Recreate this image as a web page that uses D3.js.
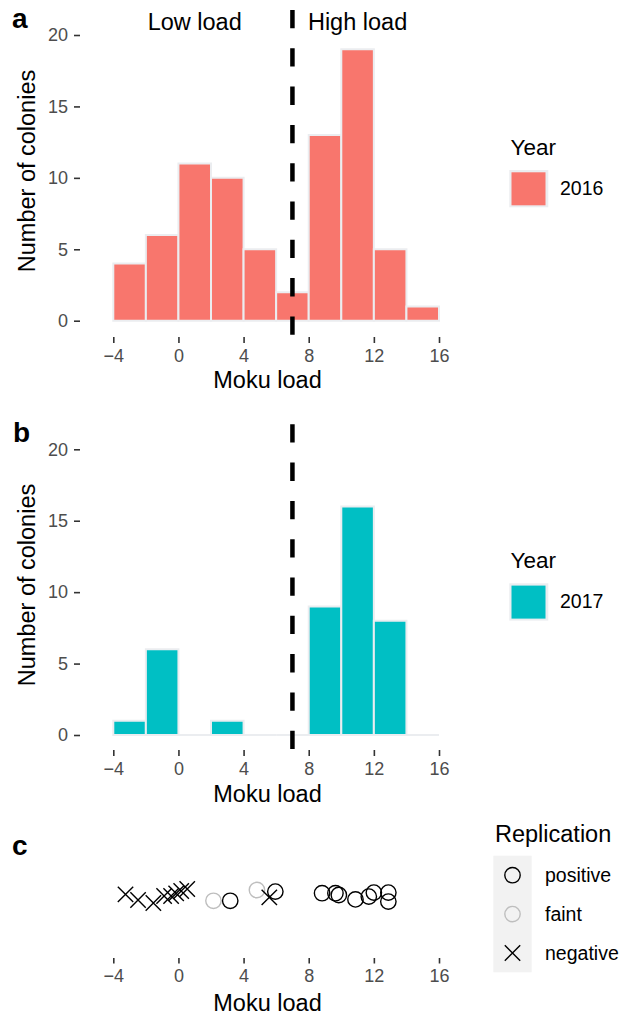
<!DOCTYPE html>
<html>
<head>
<meta charset="utf-8">
<script src="https://cdn.jsdelivr.net/npm/d3@7"></script>
<style>
  html, body { margin: 0; padding: 0; background: #fff; }
  svg { display: block; font-family: "Liberation Sans", Arial, Helvetica, sans-serif; }
</style>
</head>
<body>
<svg id="chart" width="621" height="1016"></svg>
<script>
// ---------- data ----------
const binStarts = [-4, -2, 0, 2, 4, 6, 8, 10, 12, 14];
const binWidth = 2;
const counts2016 = [4, 6, 11, 10, 5, 2, 13, 19, 5, 1];
const counts2017 = [1, 6, 0, 1, 0, 0, 9, 16, 8, 0];
const xTicks = [-4, 0, 4, 8, 12, 16];
const yTicks = [0, 5, 10, 15, 20];
const threshold = 7;
const years = ["2016", "2017"];
const yearColors = ["#F8766D", "#00BFC4"];

// panel c: replication results
const repLoad   = [-3.25, -2.48, -1.54, -0.88, -0.45, -0.14, 0.17, 0.54, 2.15, 3.18, 4.82, 5.58, 5.95, 8.82, 9.64, 9.85, 10.87, 11.69, 12.0, 12.89, 12.89];
const repJitter = [0.03, -0.25, -0.4, -0.05, -0.05, 0.08, 0.2, 0.3, -0.29, -0.29, 0.25, -0.12, 0.17, 0.09, 0.09, 0.0, -0.22, -0.08, 0.12, 0.12, -0.33];
const repStatus = ["negative","negative","negative","negative","negative","negative","negative","negative",
                   "faint","positive","faint","negative","positive",
                   "positive","positive","positive","positive","positive","positive","positive","positive"];
const repLevels = ["positive", "faint", "negative"];
const repColors = { positive: "#000000", faint: "#BEBEBE", negative: "#000000" };

// ---------- layout ----------
const svg = d3.select("#chart");
const FONT_TITLE = 23.5, FONT_TICK = 18, FONT_LEG = 19.5;
const outline = "#EBEDF0";
const x = d3.scaleLinear().domain([-4, 16]).range([113.3, 439]);
const axisLeftX = 80;

function drawHist(counts, color, y0px, y20px, axisY, titleY, opts) {
  const y = d3.scaleLinear().domain([0, 20]).range([y0px, y20px]);
  const g = svg.append("g");
  // bars (paths so zero-height bins still show their outline)
  g.selectAll("path.bar").data(binStarts.map((s, i) => ({ s, c: counts[i] })))
    .enter().append("path")
    .attr("class", "bar")
    .attr("d", d => `M${x(d.s)},${y(0)}V${y(d.c)}H${x(d.s + binWidth)}V${y(0)}Z`)
    .attr("fill", color)
    .attr("stroke", outline)
    .attr("stroke-width", 2);
  // dashed threshold
  g.append("line")
    .attr("x1", x(threshold)).attr("x2", x(threshold))
    .attr("y1", y(21.75)).attr("y2", y(-1.05))
    .attr("stroke", "#000").attr("stroke-width", 4.5)
    .attr("stroke-dasharray", "18.3,20");
  // y axis
  const ya = g.append("g").attr("transform", `translate(${axisLeftX},0)`)
    .call(d3.axisLeft(y).tickValues(yTicks).tickSize(6).tickPadding(6));
  styleAxis(ya);
  // x axis
  const xa = g.append("g").attr("transform", `translate(0,${axisY})`)
    .call(d3.axisBottom(x).tickValues(xTicks).tickSize(6).tickPadding(6));
  styleAxis(xa);
  // titles
  g.append("text").attr("x", 267.5).attr("y", titleY).attr("text-anchor", "middle")
    .attr("font-size", FONT_TITLE).attr("fill", "#000").text("Moku load");
  g.append("text").attr("transform", `translate(35,${opts.yTitleMid}) rotate(-90)`)
    .attr("text-anchor", "middle").attr("font-size", FONT_TITLE).attr("fill", "#000")
    .text("Number of colonies");
  return y;
}

function styleAxis(a) {
  a.select(".domain").remove();
  a.selectAll(".tick line").attr("stroke", "#333333").attr("stroke-width", 1.6);
  a.selectAll(".tick text").attr("fill", "#4D4D4D").attr("font-size", FONT_TICK)
    .attr("font-family", "'Liberation Sans', Arial, Helvetica, sans-serif");
}

// ---------- panel a ----------
const yA = drawHist(counts2016, yearColors[0], 320.7, 35, 337, 388, { yTitleMid: 171 });
svg.append("text").attr("x", x(1)).attr("y", 30).attr("text-anchor", "middle")
  .attr("font-size", FONT_TITLE).text("Low load");
svg.append("text").attr("x", x(11)).attr("y", 30).attr("text-anchor", "middle")
  .attr("font-size", FONT_TITLE).text("High load");
svg.append("text").attr("x", 12).attr("y", 28).attr("font-size", 28).attr("font-weight", "bold").text("a");

// ---------- panel b ----------
const yB = drawHist(counts2017, yearColors[1], 735, 449.3, 750, 802, { yTitleMid: 585 });
svg.append("text").attr("x", 13).attr("y", 442).attr("font-size", 28).attr("font-weight", "bold").text("b");

// ---------- Year legends ----------
function yearLegend(i, titleBase, keyTop) {
  const g = svg.append("g");
  g.append("text").attr("x", 510.5).attr("y", titleBase).attr("font-size", 22.5).text("Year");
  g.append("rect").attr("x", 509.3).attr("y", keyTop).attr("width", 39).attr("height", 37.3).attr("fill", outline);
  g.append("rect").attr("x", 511.5).attr("y", keyTop + 2.3).attr("width", 34).attr("height", 33).attr("fill", yearColors[i]);
  g.append("text").attr("x", 560).attr("y", keyTop + 25).attr("font-size", FONT_LEG).text(years[i]);
}
yearLegend(0, 155, 170);
yearLegend(1, 568.3, 583.3);

// ---------- panel c ----------
const yC = d3.scaleLinear().domain([-1, 1]).range([915, 875]);
const R = 7.7;
function drawShape(g, status, cx, cy) {
  if (status === "negative") {
    g.append("path")
      .attr("d", `M${cx - R},${cy - R}L${cx + R},${cy + R}M${cx - R},${cy + R}L${cx + R},${cy - R}`)
      .attr("stroke", repColors[status]).attr("stroke-width", 1.4).attr("fill", "none");
  } else {
    g.append("circle").attr("cx", cx).attr("cy", cy).attr("r", R)
      .attr("stroke", repColors[status]).attr("stroke-width", 1.4).attr("fill", "none");
  }
}
const gC = svg.append("g");
repLoad.forEach((v, i) => drawShape(gC, repStatus[i], x(v), yC(repJitter[i])));
const xc = svg.append("g").attr("transform", "translate(0,958)")
  .call(d3.axisBottom(x).tickValues(xTicks).tickSize(5.5).tickPadding(6));
styleAxis(xc);
svg.append("text").attr("x", 267.5).attr("y", 1011).attr("text-anchor", "middle")
  .attr("font-size", FONT_TITLE).text("Moku load");
svg.append("text").attr("x", 12).attr("y", 855).attr("font-size", 28).attr("font-weight", "bold").text("c");

// replication legend
const gL = svg.append("g");
gL.append("text").attr("x", 495).attr("y", 841.7).attr("font-size", FONT_TITLE).text("Replication");
gL.append("rect").attr("x", 493.3).attr("y", 855.7).attr("width", 38.4).attr("height", 116.6).attr("fill", "#F2F2F2");
repLevels.forEach((lv, i) => {
  const cy = 875.2 + i * 38.9;
  drawShape(gL, lv, 512.5, cy);
  gL.append("text").attr("x", 545).attr("y", cy + 6.8).attr("font-size", FONT_LEG).text(lv);
});
</script>
</body>
</html>
